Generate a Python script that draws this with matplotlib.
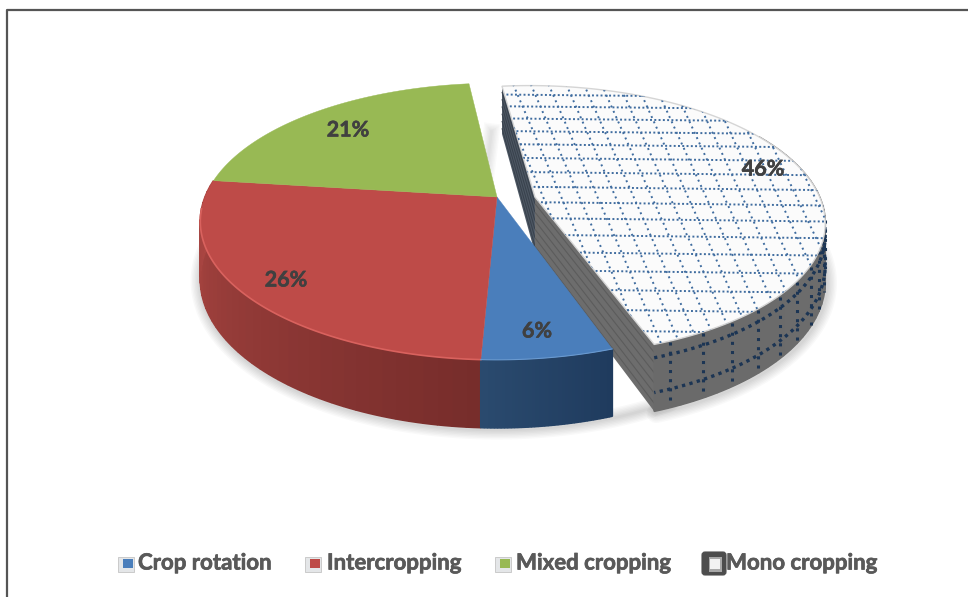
import numpy as np
import matplotlib
matplotlib.use('Agg')
import matplotlib.pyplot as plt
import matplotlib.patheffects as pe
from matplotlib.patches import Polygon, Rectangle, FancyBboxPatch

categories = ['Crop rotation', 'Intercropping', 'Mixed cropping', 'Mono cropping']
values = [6, 26, 21, 46]
labels = ['6%', '26%', '21%', '46%']
label_x = [537, 286, 348, 763]
label_y = [331, 280, 130, 169]
top_colors = ['#4a7ebb', '#be4b48', '#98b954', '#fbfbfb']

start_angle = 160.8
cx, cy = 497, 197
R, H, k = 292, 134, 0.177
depth = 56
shift = 0.13
mono_scale = 0.975

plt.rcParams['font.family'] = ['Lato', 'DejaVu Sans']
fig = plt.figure(figsize=(9.68, 5.97), dpi=100)
ax = fig.add_axes([0, 0, 1, 1])
ax.set_xlim(0, 968)
ax.set_ylim(597, 0)
ax.axis('off')


# perspective view of the disc, a to the right and b towards the viewer
def proj(a, b, z=0.0):
    a = np.asarray(a, dtype=float)
    b = np.asarray(b, dtype=float)
    s = 1 / (1 - k * b)
    return cx + R * a * s, cy + H * b * s + depth * z * s


def rim(t1, t2, scale=1.0, off=0.0, n=120):
    t = np.radians(np.linspace(t1, t2, n))
    return off + scale * np.sin(t), -scale * np.cos(t)


def blend(c1, c2, f):
    c1 = np.array(matplotlib.colors.to_rgb(c1))
    c2 = np.array(matplotlib.colors.to_rgb(c2))
    return tuple(c1 + (c2 - c1) * f)


def sector(t1, t2, scale=1.0, off=0.0):
    a, b = rim(t1, t2, scale, off)
    return np.r_[off, a], np.r_[0.0, b]


def poly(a, b, z=0.0, **kw):
    x, y = proj(a, b, z)
    p = Polygon(np.column_stack((x, y)), closed=True, lw=kw.pop('lw', 0), **kw)
    ax.add_patch(p)
    return p


def outer_wall(t1, t2, c1, c2, scale=1.0, off=0.0, zorder=2):
    edges = np.linspace(t1, t2, 41)
    for i in range(40):
        a, b = rim(edges[i], edges[i + 1], scale, off, n=3)
        x1, y1 = proj(a, b, 0)
        x2, y2 = proj(a[::-1], b[::-1], 1)
        c = blend(c1, c2, i / 39)
        ax.add_patch(Polygon(np.column_stack((np.r_[x1, x2], np.r_[y1, y2])),
                             fc=c, ec=c, lw=1.2, joinstyle='bevel', zorder=zorder))


def cut_wall(a1, b1, a2, b2, color, stripe, zorder):
    a = np.array([a1, a2, a2, a1])
    b = np.array([b1, b2, b2, b1])
    x1, y1 = proj(a[:2], b[:2], 0)
    x2, y2 = proj(a[2:], b[2:], 1)
    ax.add_patch(Polygon(np.column_stack((np.r_[x1, x2], np.r_[y1, y2])),
                         fc=color, lw=0, zorder=zorder))
    for z in np.linspace(0.12, 0.88, 6):
        xs, ys = proj(a[:2], b[:2], z)
        ax.plot(xs, ys, color=stripe, lw=0.8, zorder=zorder, solid_capstyle='butt')


angles = start_angle + np.r_[0, np.cumsum(values)] * 360 / sum(values)

# soft shadow under the two parts of the pie
a, b = rim(150, 290)
x, y = proj(a, b, 1.03)
for lw in np.arange(14, 1, -2):
    ax.plot(x, y, color='black', lw=lw, alpha=0.025, zorder=1, solid_capstyle='round')
a, b = rim(60, angles[4] - 360, mono_scale, shift)
x, y = proj(a, b, 1.03)
for lw in np.arange(14, 1, -2):
    ax.plot(x + 2, y, color='black', lw=lw, alpha=0.025, zorder=1, solid_capstyle='round')
x, y = proj(np.array([shift - 0.14, shift - 0.17]), np.array([-0.9, -0.3]), 0.8)
for lw in np.arange(12, 1, -2):
    ax.plot(x - 3, y, color='black', lw=lw, alpha=0.02, zorder=1)

# exploded slice: walls, then its top face and the dotted pattern
t1, t2 = angles[3], angles[4]
a1, b1 = rim(t1, t1, mono_scale, shift, n=1)
a2, b2 = rim(t2, t2, mono_scale, shift, n=1)
cut_wall(shift, 0, a1[0], b1[0], '#4e5864', '#39424d', 3)
cut_wall(shift, 0, a2[0], b2[0], '#6d6d6d', '#5c5c5c', 3)
outer_wall(60, t2 - 360, '#6f6f6f', '#6a6a6a', mono_scale, shift, zorder=3)

# pattern on the outer wall
for z in (0.2, 0.72):
    a, b = rim(60, t2 - 360, mono_scale, shift)
    x, y = proj(a, b, z)
    ax.plot(x, y, color='#1c3554', lw=2.4, ls=(0, (1, 1.3)), zorder=3.2)
for t in np.arange(t2 - 360 - 3, 65, -6.5):
    a, b = rim(t, t, mono_scale, shift, n=1)
    x, y = proj(np.r_[a, a], np.r_[b, b], np.array([0.02, 0.98]))
    ax.plot(x, y, color='#1c3554', lw=2.2, ls=(0, (1, 2)), zorder=3.2)

a, b = sector(t1, t2, mono_scale, shift)
top = poly(a, b, fc=top_colors[3], ec='#d5d5d5', lw=1.0, zorder=4)
for c in np.arange(-1.0, 1.3, 0.115):
    aa = np.linspace(-0.2, 1.3, 160)
    x, y = proj(aa, c + 0.025 * aa)
    ln, = ax.plot(x, y, color='#3f6c9f', lw=1.4, ls=(0, (1, 1.2)), zorder=4.2)
    ln.set_clip_path(top)
for c in np.arange(-0.4, 1.6, 0.062):
    bb = np.linspace(-1.1, 1.1, 160)
    x, y = proj(c + (0.19 - 0.15 * c) * bb, bb)
    ln, = ax.plot(x, y, color='#3f6c9f', lw=1.4, ls=(0, (1, 2)), zorder=4.2)
    ln.set_clip_path(top)

# the rest of the pie in front of it
outer_wall(angles[1], angles[2], '#772d2b', '#ad4743', zorder=5)
outer_wall(angles[0], angles[1], '#1f3b5e', '#2a4a6e', zorder=5)
for i in range(3):
    a, b = sector(angles[i], angles[i + 1])
    poly(a, b, fc=top_colors[i], ec=top_colors[i], lw=0.3, zorder=6)
a, b = rim(angles[1], 265)
x, y = proj(a, b)
ax.plot(x, y, color='#d9625e', lw=1.2, zorder=6.2)
a, b = rim(angles[0], angles[1])
x, y = proj(a, b)
ax.plot(x, y, color='#6a9ad0', lw=0.8, zorder=6.2)

heavy = [pe.withStroke(linewidth=0.4, foreground='#404040')]
for i in range(4):
    ax.text(label_x[i], label_y[i], labels[i], fontsize=15.5, fontweight='bold', color='#404040',
            ha='center', va='center', zorder=8, path_effects=heavy)

# legend along the bottom
swatch_x = [118, 305, 495]
text_x = [138, 327, 516, 726]
for i in range(3):
    ax.add_patch(Rectangle((swatch_x[i], 557), 16, 15, fc='#e4e6e8', ec='#c4c4c4', lw=0.6, zorder=8))
    ax.add_patch(Rectangle((swatch_x[i] + 5, 559), 10, 9, fc=top_colors[i], lw=0, zorder=9))
ax.add_patch(FancyBboxPatch((702, 552), 24, 23, boxstyle='round,pad=0,rounding_size=3',
                            fc='#4d4d4d', ec='#4d4d4d', lw=0.8, zorder=8))
ax.add_patch(Rectangle((709, 557), 13, 15, fc='#a8a8a8', lw=0, zorder=9))
ax.add_patch(Rectangle((710, 559), 10, 10, fc='#f2f2f2', lw=0, zorder=10))
grey = [pe.withStroke(linewidth=0.5, foreground='#595959')]
for i in range(4):
    ax.text(text_x[i], 563, categories[i], fontsize=16, fontweight='bold', color='#595959',
            ha='left', va='center', zorder=11, path_effects=grey)

# chart border
ax.plot([6.5, 6.5, 968], [597, 9.5, 9.5], color='#555555', lw=1.6, zorder=10)

fig.savefig('out.png', dpi=100)
